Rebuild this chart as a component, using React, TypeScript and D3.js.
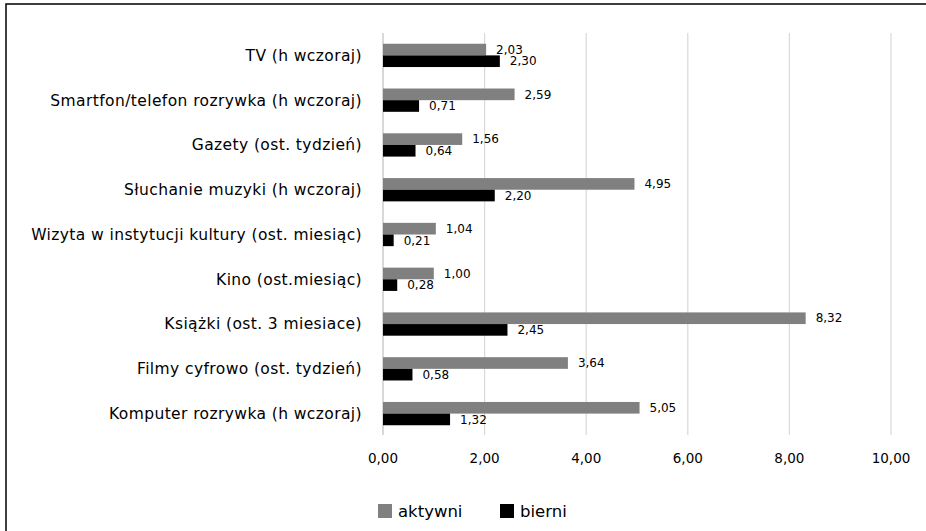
import React, { useEffect, useRef } from "react";
import * as d3 from "d3";

const categories = [
  "TV (h wczoraj)",
  "Smartfon/telefon rozrywka (h wczoraj)",
  "Gazety (ost. tydzień)",
  "Słuchanie muzyki (h wczoraj)",
  "Wizyta w instytucji kultury (ost. miesiąc)",
  "Kino (ost.miesiąc)",
  "Książki (ost. 3 miesiace)",
  "Filmy cyfrowo (ost. tydzień)",
  "Komputer rozrywka (h wczoraj)",
];
const aktywni = [2.03, 2.59, 1.56, 4.95, 1.04, 1.0, 8.32, 3.64, 5.05];
const bierni = [2.3, 0.71, 0.64, 2.2, 0.21, 0.28, 2.45, 0.58, 1.32];
const seriesNames = ["aktywni", "bierni"];
const seriesColors = ["#808080", "#000000"];
const tickValues = [0, 2, 4, 6, 8, 10];

const W = 926;
const H = 531;
const FONT = "'DejaVu Sans', sans-serif";

const fmt = (v: number) => v.toFixed(2).replace(".", ",");

export default function App() {
  const ref = useRef<SVGSVGElement>(null);

  useEffect(() => {
    const svg = d3.select(ref.current);
    svg.selectAll("*").remove();

    // outer frame (only top and left edges fall inside the picture)
    svg
      .append("rect")
      .attr("x", 6)
      .attr("y", 4)
      .attr("width", W + 20)
      .attr("height", H + 20)
      .attr("fill", "white")
      .attr("stroke", "#000")
      .attr("stroke-width", 1.5);

    const x = d3.scaleLinear().domain([0, 10]).range([383, 891]);
    const y = d3
      .scaleBand()
      .domain(categories)
      .range([33, 436])
      .paddingInner(0.48)
      .paddingOuter(0.24);
    const ySub = d3
      .scaleBand()
      .domain(seriesNames)
      .range([0, y.bandwidth()]);

    // gridlines
    svg
      .append("g")
      .selectAll("line")
      .data(tickValues)
      .enter()
      .append("line")
      .attr("x1", (d) => x(d))
      .attr("x2", (d) => x(d))
      .attr("y1", 33)
      .attr("y2", 435)
      .attr("stroke", (d) => (d === 0 ? "#bfbfbf" : "#d9d9d9"))
      .attr("stroke-width", 1.2);

    // tick labels
    svg
      .append("g")
      .selectAll("text")
      .data(tickValues)
      .enter()
      .append("text")
      .attr("x", (d) => x(d))
      .attr("y", 458)
      .attr("dy", "0.35em")
      .attr("text-anchor", "middle")
      .attr("font-family", FONT)
      .attr("font-size", 13.5)
      .attr("fill", "#000")
      .text((d) => fmt(d));

    // category labels
    svg
      .append("g")
      .selectAll("text")
      .data(categories)
      .enter()
      .append("text")
      .attr("x", 362)
      .attr("y", (d) => (y(d) as number) + y.bandwidth() / 2)
      .attr("dy", "0.35em")
      .attr("text-anchor", "end")
      .attr("font-family", FONT)
      .attr("font-size", 15.5)
      .attr("letter-spacing", 0.4)
      .attr("fill", "#000")
      .text((d) => d);

    const seriesData = [aktywni, bierni];
    seriesData.forEach((vals, si) => {
      const name = seriesNames[si];
      const g = svg.append("g");
      g.selectAll("rect")
        .data(vals)
        .enter()
        .append("rect")
        .attr("x", x(0))
        .attr("y", (d, i) => (y(categories[i]) as number) + (ySub(name) as number))
        .attr("width", (d) => x(d) - x(0))
        .attr("height", ySub.bandwidth())
        .attr("fill", seriesColors[si]);
      g.selectAll("text")
        .data(vals)
        .enter()
        .append("text")
        .attr("x", (d) => x(d) + 10)
        .attr(
          "y",
          (d, i) =>
            (y(categories[i]) as number) +
            (ySub(name) as number) +
            ySub.bandwidth() / 2
        )
        .attr("dy", "0.35em")
        .attr("font-family", FONT)
        .attr("font-size", 12)
        .attr("fill", "#000")
        .text((d) => fmt(d));
    });

    // legend
    const legendX = [378, 500];
    const legend = svg
      .append("g")
      .selectAll("g")
      .data(seriesNames)
      .enter()
      .append("g")
      .attr("transform", (d, i) => `translate(${legendX[i]},511)`);
    legend
      .append("rect")
      .attr("x", 0)
      .attr("y", -7)
      .attr("width", 14)
      .attr("height", 14)
      .attr("fill", (d, i) => seriesColors[i]);
    legend
      .append("text")
      .attr("x", 20)
      .attr("y", 0)
      .attr("dy", "0.35em")
      .attr("font-family", FONT)
      .attr("font-size", 16.5)
      .attr("fill", "#000")
      .text((d) => d);
  }, []);

  return (
    <svg
      ref={ref}
      width={W}
      height={H}
      style={{ position: "absolute", left: 0, top: 0, background: "white" }}
    />
  );
}
